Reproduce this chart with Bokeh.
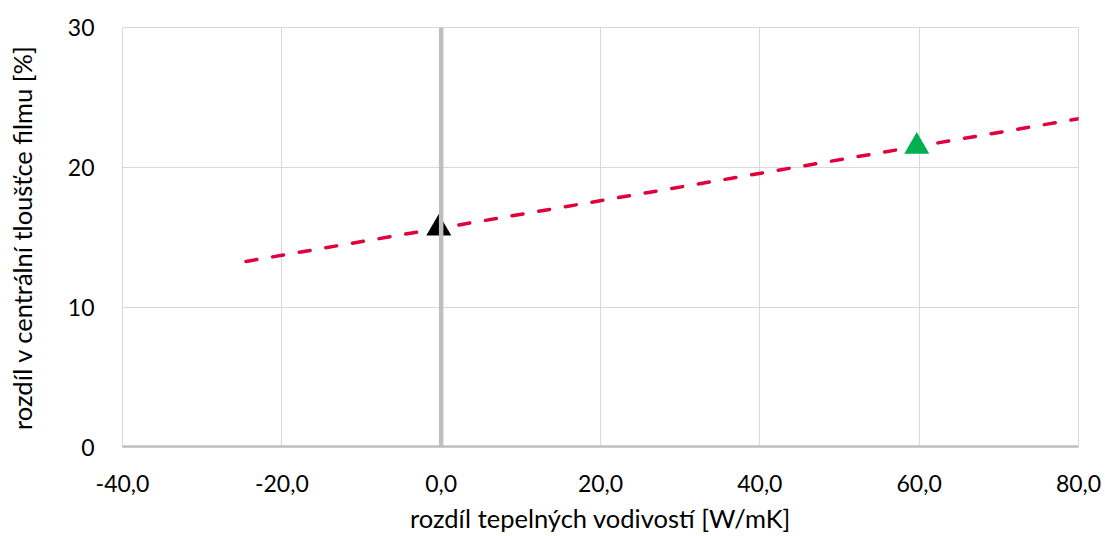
from bokeh.plotting import figure
from bokeh.models import FixedTicker, Span, Range1d
from bokeh.embed import file_html
from bokeh.resources import INLINE
import numpy as np

# ---- data ----
x_ticks = [-40, -20, 0, 20, 40, 60, 80]
x_tick_labels = ["-40,0", "-20,0", "0,0", "20,0", "40,0", "60,0", "80,0"]
y_ticks = [0, 10, 20, 30]
y_tick_labels = ["0", "10", "20", "30"]

point_x = [-0.3, 59.7]
point_y = [15.65, 21.5]
point_colors = ["#000000", "#00B050"]

trend_x = [-24.5, 80.0]

x_title = "rozdíl tepelných vodivostí [W/mK]"
y_title = "rozdíl v centrální tloušťce filmu [%]"

# linear trendline through the points
slope, intercept = np.polyfit(point_x, point_y, 1)
trend_y = [slope * t + intercept for t in trend_x]

FONT = "Lato"

p = figure(frame_width=956, frame_height=420, output_backend="svg", toolbar_location=None,
           x_range=Range1d(-40, 80), y_range=Range1d(0, 30),
           min_border_left=122, min_border_right=27, min_border_top=27,
           min_border_bottom=89)
p.background_fill_color = "white"
p.border_fill_color = "white"
p.outline_line_color = "#D9D9D9"
p.outline_line_width = 1

p.xgrid.ticker = FixedTicker(ticks=x_ticks)
p.ygrid.ticker = FixedTicker(ticks=y_ticks)
p.grid.grid_line_color = "#D9D9D9"
p.grid.grid_line_width = 1

for ax in (p.xaxis[0], p.yaxis[0]):
    ax.axis_line_color = None
    ax.major_tick_line_color = None
    ax.minor_tick_line_color = None
    ax.major_label_text_font = FONT
    ax.major_label_text_font_size = "23px"
    ax.major_label_text_color = "#000000"
    ax.axis_label_text_font = FONT
    ax.axis_label_text_font_size = "25.5px"
    ax.axis_label_text_font_style = "normal"
    ax.axis_label_text_color = "#000000"

p.xaxis.ticker = FixedTicker(ticks=x_ticks)
p.yaxis.ticker = FixedTicker(ticks=y_ticks)
p.xaxis.major_label_overrides = {t: l for t, l in zip(x_ticks, x_tick_labels)}
p.yaxis.major_label_overrides = {t: l for t, l in zip(y_ticks, y_tick_labels)}
p.xaxis.major_label_standoff = 21
p.yaxis.major_label_standoff = 22
p.xaxis.axis_label = x_title
p.yaxis.axis_label = y_title
p.xaxis.axis_label_standoff = 8
p.yaxis.axis_label_standoff = 28

p.add_layout(Span(location=0, dimension="height", line_color="#BFBFBF", line_width=4.5))
p.add_layout(Span(location=0, dimension="width", line_color="#BFBFBF", line_width=4.5))

p.line(trend_x, trend_y, line_color="#E0003C", line_width=3.5,
       line_dash="11 16", line_cap="round")

p.scatter(point_x, point_y, marker="triangle", size=25,
          fill_color=point_colors, line_color=None)

open("out.html", "w").write(file_html(p, INLINE))
